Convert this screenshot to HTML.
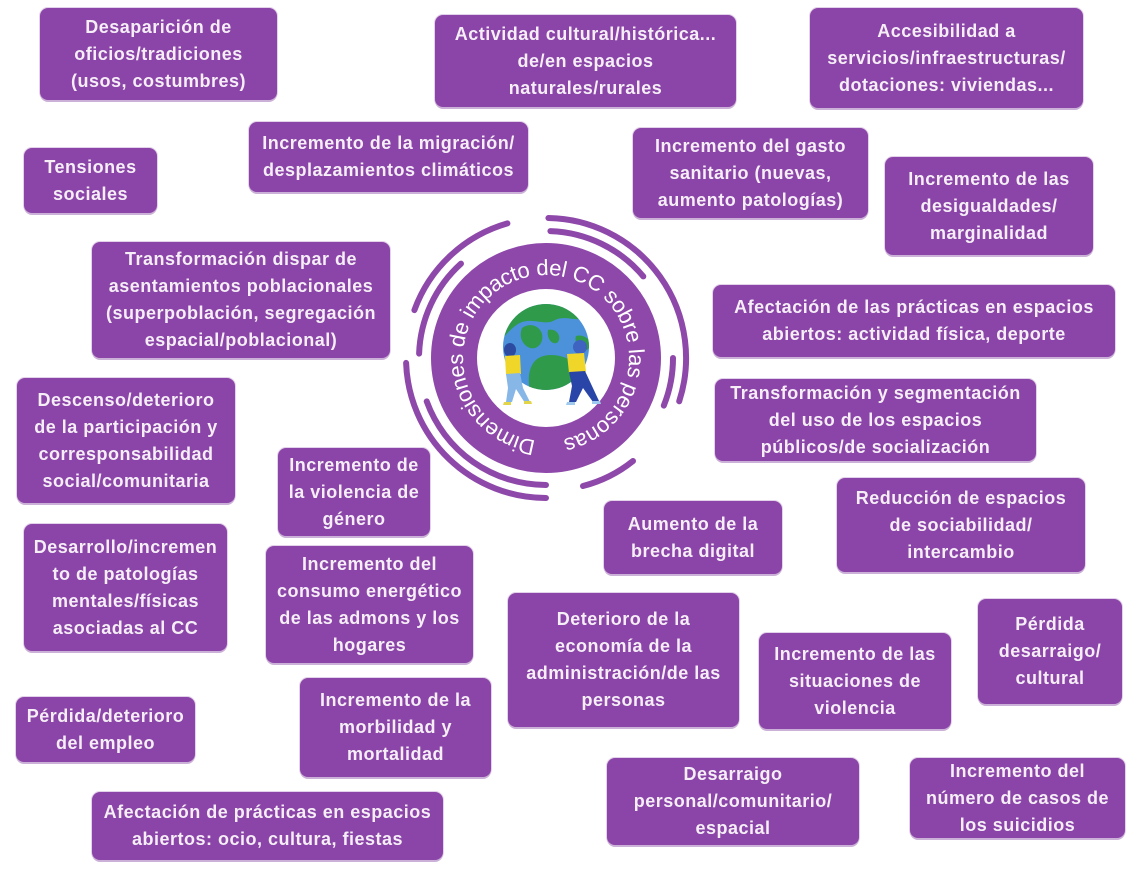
<!DOCTYPE html>
<html>
<head>
<meta charset="utf-8">
<style>
  html, body { margin:0; padding:0; background:#ffffff; }
  body { width:1146px; height:872px; position:relative; overflow:hidden;
         font-family:"Liberation Sans", Arial, sans-serif; }
  .b { position:absolute; box-sizing:border-box; background:#8b44a7; border-radius:8px;
       color:#f5eef7; font-weight:bold; font-size:18px; line-height:27px; letter-spacing:0.5px;
       text-align:center; white-space:nowrap; display:flex; align-items:center; justify-content:center;
       box-shadow:0 2px 0 #cbb0d7, 0 0 0 1px #e3d3ea; }
  svg { position:absolute; left:0; top:0; }
</style>
</head>
<body>

<svg width="1146" height="872" viewBox="0 0 1146 872">
  <defs>
    <clipPath id="gc"><circle cx="546" cy="347" r="43"/></clipPath>
    <path id="tp" d="M535.9 440.4 A83 83 0 1 1 556.1 440.4"/>
  </defs>
  <!-- arcs -->
  <g fill="none" stroke="#8e48aa" stroke-width="6" stroke-linecap="round">
    <path d="M414.4 310.1 A140 140 0 0 1 507.4 223.4"/>
    <path d="M548.4 218 A140 140 0 0 1 679.2 401.3"/>
    <path d="M546 498 A140 140 0 0 1 406.1 362.9"/>
    <path d="M419.1 353.6 A127 127 0 0 1 461 263.6"/>
    <path d="M550.4 231.1 A127 127 0 0 1 643.3 276.4"/>
    <path d="M673 358 A127 127 0 0 1 663.8 405.6"/>
    <path d="M633 461 A133 133 0 0 1 583 486"/>
    <path d="M546 485 A127 127 0 0 1 426.7 401.4"/>
  </g>
  <!-- ring -->
  <circle cx="546" cy="358" r="92" fill="none" stroke="#8e48aa" stroke-width="46"/>
  <text font-family="Liberation Sans, Arial, sans-serif" font-size="22" fill="#ffffff">
    <textPath href="#tp" textLength="494" lengthAdjust="spacing">Dimensiones de impacto del CC sobre las personas</textPath>
  </text>
  <!-- globe -->
  <circle cx="546" cy="347" r="43" fill="#4b92db"/>
  <g clip-path="url(#gc)" fill="#2f9a4a">
    <path d="M500 300 L592 300 L592 318 C575 322 565 315 555 320 C545 326 535 318 522 322 C512 326 506 336 500 340 Z"/>
    <path d="M522 328 C530 322 540 326 542 334 C544 342 538 350 530 348 C524 346 518 338 522 328 Z"/>
    <path d="M548 330 C556 328 562 336 558 342 C554 346 546 340 548 330 Z"/>
    <path d="M534 362 C542 352 560 354 570 360 C580 366 578 380 566 388 L530 392 C528 380 528 370 534 362 Z"/>
    <path d="M576 336 C582 334 590 338 592 346 L584 352 C578 348 574 342 576 336 Z"/>
  </g>
  <!-- left person -->
  <g>
    <ellipse cx="510" cy="350" rx="6" ry="7" fill="#2b4aa0"/>
    <path d="M505 356 L520 355 L521 374 L506 375 Z" fill="#f1d62a"/>
    <path d="M506 374 L520 373 L523 388 L530 402 L525 403 L516 389 L512 402 L506 402 L508 388 Z" fill="#86b7e6"/>
    <path d="M504 402 L511 402 L511 405 L503 405 Z M524 401 L531 401 L532 404 L524 404 Z" fill="#e3d54a"/>
  </g>
  <!-- right person -->
  <g>
    <ellipse cx="580" cy="347" rx="7" ry="7" fill="#3f63c0"/>
    <path d="M567 354 L584 353 L586 372 L569 373 Z" fill="#f1d62a"/>
    <path d="M569 372 L585 371 L592 386 L599 401 L593 402 L583 388 L576 402 L569 402 L572 386 Z" fill="#2a45a8"/>
    <path d="M567 402 L575 402 L575 405 L566 405 Z M592 401 L600 401 L601 404 L592 404 Z" fill="#9fc9ef"/>
  </g>
</svg>

<div class="b" style="left:40px;top:8px;width:237px;height:92px;">Desaparición de<br>oficios/tradiciones<br>(usos, costumbres)</div>
<div class="b" style="left:24px;top:148px;width:133px;height:65px;">Tensiones<br>sociales</div>
<div class="b" style="left:249px;top:122px;width:279px;height:70px;">Incremento de la migración/<br>desplazamientos climáticos</div>
<div class="b" style="left:92px;top:242px;width:298px;height:116px;">Transformación dispar de<br>asentamientos poblacionales<br>(superpoblación, segregación<br>espacial/poblacional)</div>
<div class="b" style="left:435px;top:15px;width:301px;height:92px;">Actividad cultural/histórica...<br>de/en espacios<br>naturales/rurales</div>
<div class="b" style="left:810px;top:8px;width:273px;height:100px;">Accesibilidad a<br>servicios/infraestructuras/<br>dotaciones: viviendas...</div>
<div class="b" style="left:633px;top:128px;width:235px;height:90px;">Incremento del gasto<br>sanitario (nuevas,<br>aumento patologías)</div>
<div class="b" style="left:885px;top:157px;width:208px;height:98px;">Incremento de las<br>desigualdades/<br>marginalidad</div>
<div class="b" style="left:713px;top:285px;width:402px;height:72px;">Afectación de las prácticas en espacios<br>abiertos: actividad física, deporte</div>
<div class="b" style="left:715px;top:379px;width:321px;height:82px;">Transformación y segmentación<br>del uso de los espacios<br>públicos/de socialización</div>
<div class="b" style="left:837px;top:478px;width:248px;height:94px;">Reducción de espacios<br>de sociabilidad/<br>intercambio</div>
<div class="b" style="left:604px;top:501px;width:178px;height:73px;">Aumento de la<br>brecha digital</div>
<div class="b" style="left:278px;top:448px;width:152px;height:88px;">Incremento de<br>la violencia de<br>género</div>
<div class="b" style="left:17px;top:378px;width:218px;height:125px;">Descenso/deterioro<br>de la participación y<br>corresponsabilidad<br>social/comunitaria</div>
<div class="b" style="left:24px;top:524px;width:203px;height:127px;">Desarrollo/incremen<br>to de patologías<br>mentales/físicas<br>asociadas al CC</div>
<div class="b" style="left:266px;top:546px;width:207px;height:117px;">Incremento del<br>consumo energético<br>de las admons y los<br>hogares</div>
<div class="b" style="left:508px;top:593px;width:231px;height:134px;">Deterioro de la<br>economía de la<br>administración/de las<br>personas</div>
<div class="b" style="left:759px;top:633px;width:192px;height:96px;">Incremento de las<br>situaciones de<br>violencia</div>
<div class="b" style="left:978px;top:599px;width:144px;height:105px;">Pérdida<br>desarraigo/<br>cultural</div>
<div class="b" style="left:16px;top:697px;width:179px;height:65px;">Pérdida/deterioro<br>del empleo</div>
<div class="b" style="left:300px;top:678px;width:191px;height:99px;">Incremento de la<br>morbilidad y<br>mortalidad</div>
<div class="b" style="left:92px;top:792px;width:351px;height:68px;">Afectación de prácticas en espacios<br>abiertos: ocio, cultura, fiestas</div>
<div class="b" style="left:607px;top:758px;width:252px;height:87px;">Desarraigo<br>personal/comunitario/<br>espacial</div>
<div class="b" style="left:910px;top:758px;width:215px;height:80px;">Incremento del<br>número de casos de<br>los suicidios</div>

</body>
</html>
